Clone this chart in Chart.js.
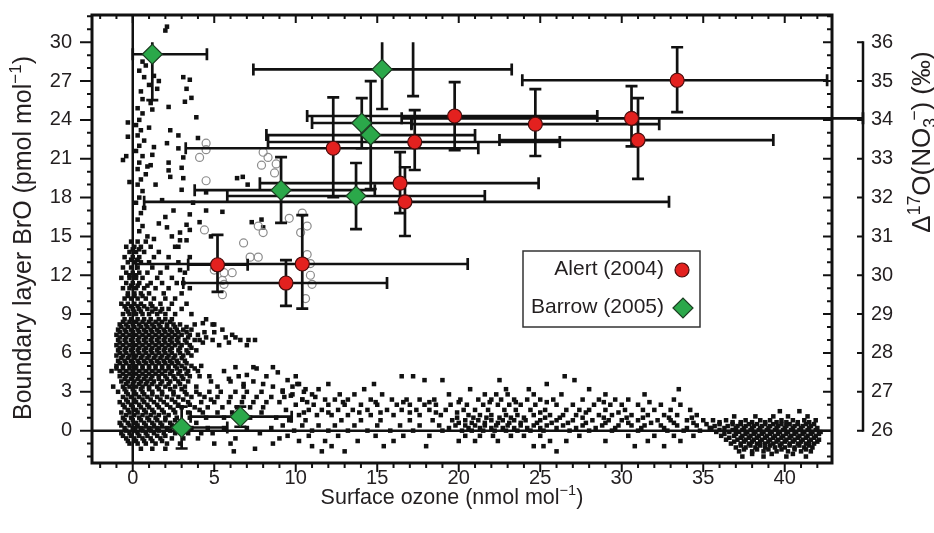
<!DOCTYPE html>
<html>
<head>
<meta charset="utf-8">
<script src="https://cdn.jsdelivr.net/npm/chart.js@4.4.0/dist/chart.umd.min.js"></script>
<style>
  html, body { margin: 0; padding: 0; background: #fff; }
</style>
</head>
<body>
<canvas id="chart" width="934" height="533"></canvas>
<script>
// ---- data ----
// tick labels
var ozoneTicks = [0, 5, 10, 15, 20, 25, 30, 35, 40];
var broTicks = [0, 3, 6, 9, 12, 15, 18, 21, 24, 27, 30];
var d17Ticks = [26, 27, 28, 29, 30, 31, 32, 33, 34, 35, 36];

// Alert (2004): surface ozone vs D17O(NO3-), with error ranges
var alertOzone = [33.4, 19.75, 24.7, 30.6, 31.0, 17.3, 12.3, 16.4, 16.7, 5.2, 10.4, 9.4];
var alertD17 = [35.02, 34.10, 33.89, 34.04, 33.48, 33.43, 33.27, 32.37, 31.89, 30.27, 30.29, 29.80];
var alertOzoneRange = [[23.9, 42.6], [10.7, 28.5], [17.1, 32.3], [16.5, 44.8], [22.5, 39.3], [8.3, 26.2],
  [3.25, 21.2], [7.8, 24.9], [0.7, 32.9], [3.4, 7.05], [0.2, 20.55], [3.1, 15.6]];
var alertD17Range = [[34.20, 35.87], [33.22, 34.97], [33.07, 34.79], [33.32, 34.87], [32.48, 34.56], [32.71, 34.25],
  [32.01, 34.58], [31.60, 33.17], [31.01, 32.78], [29.57, 31.04], [29.14, 31.55], [29.21, 30.39]];

// Barrow (2005)
var barrowOzone = [1.2, 15.3, 14.05, 14.6, 9.1, 13.7, 3.0, 6.6];
var barrowD17 = [35.69, 35.30, 33.92, 33.61, 32.19, 32.04, 26.08, 26.36];
var barrowOzoneRange = [[0, 4.55], [7.4, 23.25], [11.0, 17.1], [8.2, 21.0], [3.8, 14.85], [5.8, 21.6], [0.2, 5.8], [3.55, 9.75]];
var barrowD17Range = [[34.51, 36.87], [34.28, 36.32], [33.27, 34.56], [32.22, 35.0], [31.35, 33.04], [31.19, 32.89], [25.54, 26.62], [26.10, 26.62]];

// a lone vertical error bar without a marker
var loneOzone = [17.2];
var loneD17Range = [[34.61, 36.1]];

// boundary layer BrO vs surface ozone (black dots), sparse part as [ozone, bro]
var broUpper = [
  [2.1, 31.2], [2.0, 30.9], [0.6, 28.5], [0.8, 28.2], [0.4, 27.8], [0.7, 27.3], [1.0, 26.7], [0.5, 26.2], [0.6, 25.6],
  [1.1, 25.3], [1.5, 26.4], [1.6, 27.0], [1.3, 27.4], [0.3, 24.9], [0.6, 24.5], [0.4, 24.0], [0.2, 23.6], [0.5, 23.2],
  [0.3, 22.8], [0.7, 22.4], [0.4, 22.0], [0.2, 21.6], [0.6, 21.2], [0.4, 20.7], [0.3, 20.2], [0.8, 19.8], [0.5, 19.4],
  [0.3, 19.0], [0.6, 18.5], [0.4, 18.0], [0.2, 17.6], [0.7, 17.2], [0.5, 16.8], [0.3, 16.3], [0.6, 15.8], [0.4, 15.4],
  [0.9, 15.0], [1.2, 24.8], [1.0, 23.4], [1.3, 21.9], [1.1, 20.5], [-0.3, 23.8], [-0.4, 21.2], [-0.2, 19.2],
  [-0.6, 20.9], [-0.3, 22.7], [3.1, 27.3], [3.5, 27.1], [3.3, 26.4], [3.6, 25.7], [3.2, 25.4], [2.2, 25.0], [3.9, 24.2],
  [2.3, 23.2], [2.8, 22.8], [2.1, 22.2], [4.0, 22.6], [2.8, 21.8], [3.1, 21.1], [1.2, 21.3], [0.9, 20.4], [2.2, 20.7],
  [2.2, 20.1], [3.0, 20.3], [2.3, 19.6], [3.1, 19.5], [3.0, 18.6], [4.5, 18.4], [5.5, 16.9], [3.7, 17.6], [3.5, 16.7],
  [3.3, 15.9], [2.9, 15.3], [3.5, 15.5], [2.0, 16.5], [2.5, 17.0], [2.1, 15.7], [2.9, 14.7], [4.5, 17.0], [4.1, 16.1],
  [2.4, 15.0], [7.3, 16.1], [7.9, 16.3], [8.0, 15.7], [6.75, 19.6], [7.05, 19.0], [6.4, 19.5], [1.4, 19.0], [1.8, 17.8],
  [1.6, 16.0], [1.3, 14.8], [4.8, 15.0], [3.3, 14.7], [2.8, 14.2], [3.5, 13.4], [2.9, 12.4], [4.3, 8.3], [5.0, 8.2]
];
var broSide = [
  [6.3, 4.9], [7.0, 4.3], [7.6, 4.8], [8.9, 4.5], [9.5, 3.9], [6.8, 3.6], [9.2, 3.1], [10.1, 3.6], [9.7, 2.7],
  [10.4, 2.4], [10.0, 4.2], [7.4, 4.9], [8.6, 4.9], [5.9, 4.0], [8.0, 3.6], [9.8, 3.4], [10.5, 3.0], [11.2, 2.6]
];

// dense parts, one row per BrO level: [bro, ozone, ozone, ...]
var broNearZero = [
  [14.6, -0.1, 0.3, 0.8],
  [14.2, -0.4, 0.1, 0.5, 1.1, 2.6],
  [14.0, 0.0, 0.4],
  [13.8, -0.2, 0.2, 0.7, 1.6],
  [13.4, -0.5, 0.0, 0.4, 1.3, 2.2],
  [13.2, -0.1, 0.3],
  [13.0, -0.3, 0.1, 0.5, 1.0, 2.8],
  [12.6, -0.6, -0.1, 0.3, 1.2, 2.1],
  [12.2, -0.4, 0.0, 0.4, 0.9, 1.7, 3.2],
  [12.0, -0.2, 0.2],
  [11.8, -0.7, -0.2, 0.2, 0.6, 1.5, 2.4],
  [11.4, -0.4, 0.0, 0.4, 1.1, 1.8, 2.7, 3.1],
  [11.2, -0.1, 0.3, 0.9],
  [11.0, -0.6, -0.2, 0.2, 0.7, 1.4, 2.2, 3.5],
  [10.6, -0.3, 0.1, 0.5, 1.0, 1.9, 3.0],
  [10.4, -0.3, 0.1, 0.6],
  [10.2, -0.5, -0.1, 0.3, 0.8, 1.3, 2.0, 2.6],
  [9.8, -0.7, -0.3, 0.1, 0.5, 1.1, 1.7, 2.4, 3.3],
  [9.6, -0.5, -0.1, 0.3, 0.7, 1.2],
  [9.4, -0.4, 0.0, 0.4, 0.9, 1.4, 1.8, 2.2, 3.0],
  [9.2, -0.3, 0.1, 0.5, 1.2, 1.7],
  [9.0, -0.6, -0.2, 0.2, 0.6, 1.0, 1.5, 2.0, 2.6, 3.6],
  [8.6, -0.5, -0.1, 0.3, 0.7, 1.1, 1.6, 2.0, 2.4, 4.5],
  [8.4, -0.6, -0.2, 0.2, 0.6, 1.0, 1.4, 1.8, 2.3],
  [8.2, -0.8, -0.4, 0.0, 0.4, 0.8, 1.2, 1.6, 2.1, 2.5, 2.9, 3.8, 4.9],
  [8.0, -0.7, -0.3, 0.1, 0.5, 0.9, 1.3, 1.7, 2.1, 2.6, 3.3],
  [7.8, -0.9, -0.5, -0.1, 0.3, 0.7, 1.1, 1.5, 1.9, 2.3, 2.7, 3.1, 3.6, 5.5],
  [7.6, -0.8, -0.4, 0.0, 0.4, 0.8, 1.2, 1.6, 2.0, 2.4, 2.8, 3.3, 4.4, 5.0],
  [7.4, -1.0, -0.6, -0.2, 0.2, 0.6, 1.0, 1.4, 1.8, 2.2, 2.6, 3.0, 3.5, 4.0, 6.1],
  [7.2, -0.8, -0.4, 0.0, 0.4, 0.8, 1.2, 1.6, 2.0, 2.4, 2.8, 3.4, 4.5, 5.7, 6.3],
  [7.0, -0.9, -0.5, -0.1, 0.3, 0.7, 1.1, 1.5, 1.9, 2.3, 2.7, 3.2, 3.8, 4.1, 4.9, 6.6, 7.1, 7.5],
  [6.8, -0.8, -0.4, 0.0, 0.4, 0.8, 1.2, 1.6, 2.0, 2.4, 2.8, 3.3, 4.3, 5.9],
  [6.6, -1.0, -0.6, -0.2, 0.2, 0.6, 1.0, 1.4, 1.8, 2.2, 2.6, 3.0, 3.5, 5.3, 7.0],
  [6.4, -0.8, -0.4, 0.0, 0.4, 0.8, 1.2, 1.6, 2.0, 2.4, 2.9, 3.6],
  [6.2, -0.9, -0.5, -0.1, 0.3, 0.7, 1.1, 1.5, 1.9, 2.3, 2.8, 3.3, 3.9],
  [6.0, -0.8, -0.4, 0.0, 0.4, 0.8, 1.2, 1.6, 2.0, 2.4, 2.9, 3.4],
  [5.8, -1.0, -0.6, -0.2, 0.2, 0.6, 1.0, 1.4, 1.8, 2.2, 2.6, 3.1, 3.6],
  [5.6, -0.7, -0.3, 0.1, 0.5, 0.9, 1.3, 1.7, 2.1, 2.5, 3.0],
  [5.4, -0.9, -0.5, -0.1, 0.3, 0.7, 1.1, 1.5, 1.9, 2.3, 2.7, 3.2],
  [5.2, -0.8, -0.4, 0.0, 0.4, 0.8, 1.2, 1.6, 2.0, 2.4, 2.8, 3.3],
  [5.0, -1.0, -0.6, -0.2, 0.2, 0.6, 1.0, 1.4, 1.8, 2.2, 2.6, 3.0, 3.6, 4.2],
  [4.8, -1.0, -0.6, -0.2, 0.2, 0.6, 1.0, 1.4, 1.8, 2.2, 2.7, 3.2, 3.8],
  [4.6, -1.3, -0.8, -0.4, 0.0, 0.4, 0.8, 1.2, 1.6, 2.0, 2.4, 2.9, 3.4, 4.0, 5.6],
  [4.4, -0.6, -0.2, 0.2, 0.6, 1.0, 1.4, 1.8, 2.3, 2.8, 3.3],
  [4.2, -0.8, -0.4, 0.0, 0.4, 0.8, 1.2, 1.6, 2.0, 2.5, 3.0, 3.5, 4.1, 4.7, 6.5, 8.2],
  [4.0, -0.5, -0.1, 0.3, 0.7, 1.1, 1.6, 2.1, 2.6, 3.1],
  [3.8, -0.7, -0.3, 0.1, 0.5, 0.9, 1.3, 1.8, 2.3, 2.8, 3.4, 4.8, 6.0, 7.4],
  [3.6, -0.4, 0.0, 0.4, 0.8, 1.2, 1.7, 2.2, 2.9],
  [3.4, -1.2, -0.6, -0.2, 0.2, 0.6, 1.0, 1.5, 2.0, 2.6, 3.2, 3.9, 5.2, 6.8, 8.6],
  [3.2, -0.5, 0.0, 0.5, 1.0, 1.6, 2.3, 3.0],
  [3.0, -0.9, -0.4, 0.1, 0.6, 1.2, 1.8, 2.5, 3.2, 3.9, 4.7, 5.4, 6.3, 7.0, 7.9, 9.2],
  [2.8, -0.3, 0.2, 0.7, 1.2, 1.8, 2.5, 3.3, 4.1],
  [2.6, -0.6, -0.1, 0.4, 0.9, 1.5, 2.1, 2.8, 3.6, 4.4, 5.2, 6.0, 6.8, 7.6, 8.5, 9.3],
  [2.4, -0.4, 0.1, 0.6, 1.1, 1.7, 2.4, 3.1, 4.8],
  [2.2, -0.8, -0.3, 0.2, 0.7, 1.3, 1.9, 2.6, 3.4, 4.2, 5.0, 5.9, 6.7, 7.4, 8.2, 9.0],
  [2.0, -0.6, -0.1, 0.4, 0.9, 1.5, 2.1, 2.8, 3.5],
  [1.8, -0.5, 0.0, 0.5, 1.0, 1.6, 2.3, 3.0, 3.8, 4.6, 5.5, 6.4, 7.2, 8.0],
  [1.6, -0.3, 0.2, 0.7, 1.2, 1.8, 2.5, 4.1],
  [1.4, -0.7, -0.2, 0.3, 0.8, 1.3, 1.9, 2.6, 3.4, 4.3, 5.2, 6.1, 7.9],
  [1.2, -0.4, 0.1, 0.6, 1.1, 1.6, 2.2],
  [1.0, -0.6, -0.1, 0.4, 0.9, 1.4, 2.0, 2.7, 3.5, 4.5, 5.6, 7.2, 8.8],
  [0.8, -0.5, 0.0, 0.5, 1.0, 1.5, 2.0, 2.6],
  [0.6, -0.8, -0.3, 0.2, 0.7, 1.2, 1.7, 2.3, 3.0, 3.9],
  [0.4, -0.7, -0.2, 0.3, 0.8, 1.3, 1.8, 2.4],
  [0.2, -0.5, 0.0, 0.5, 1.0, 1.5, 2.1, 2.8, 3.6, 4.6, 5.6, 7.0, 8.5],
  [0.0, -0.4, 0.1, 0.6, 1.1, 1.6, 2.3],
  [-0.2, -0.7, -0.2, 0.3, 0.8, 1.3, 1.9, 2.6, 3.4, 4.2, 4.9, 7.8],
  [-0.4, -0.6, -0.1, 0.4, 0.9, 1.5, 2.0],
  [-0.6, -0.4, 0.1, 0.6, 1.1, 1.7, 2.4, 3.1, 4.0, 6.3, 9.0],
  [-0.8, -0.3, 0.2, 0.7, 1.2, 1.8],
  [-1.0, -0.2, 0.3, 0.8, 1.4, 2.1, 2.9, 5.0, 6.0, 8.6],
  [-1.4, 0.5, 1.2, 2.0, 7.5]
];
var broBand = [
  [4.2, 16.5, 17.2, 26.5],
  [3.9, 17.9, 19.0, 22.5, 27.1],
  [3.6, 10.2, 12.0, 14.8, 25.4],
  [3.2, 10.6, 11.4, 14.2, 20.7, 22.9, 24.3, 28.0, 33.5],
  [2.8, 9.8, 11.0, 12.7, 13.6, 15.3, 19.4, 21.6, 22.3, 23.0, 24.6, 26.3, 29.0, 31.4],
  [2.4, 10.4, 11.8, 12.4, 13.2, 14.6, 15.9, 16.8, 17.6, 18.5, 20.1, 21.2, 22.0, 22.6, 23.4, 24.2, 25.0, 25.8, 27.6, 28.6, 29.6, 30.4, 33.2],
  [2.2, 10.7, 12.9, 14.9, 16.6, 18.2, 20.0, 21.9, 23.5, 25.4, 28.9, 31.7],
  [2.0, 10.0, 11.1, 12.0, 13.0, 14.0, 15.0, 16.2, 17.0, 17.9, 18.6, 19.5, 20.5, 21.5, 22.4, 23.1, 23.8, 24.7, 26.0, 27.0, 28.3, 29.3, 30.0, 31.0, 32.4, 33.6],
  [1.6, 9.4, 10.8, 11.6, 12.6, 13.5, 14.4, 15.6, 16.5, 17.4, 18.2, 19.2, 20.3, 21.0, 21.8, 22.8, 23.5, 24.4, 25.3, 26.6, 27.4, 28.0, 29.0, 30.2, 31.3, 32.0, 33.0, 34.2],
  [1.4, 10.5, 12.0, 13.9, 15.2, 17.0, 18.6, 19.9, 25.0, 27.8, 29.8],
  [1.2, 10.2, 11.3, 12.2, 13.2, 14.6, 16.0, 17.6, 18.9, 20.6, 21.3, 22.0, 22.9, 23.6, 24.6, 25.6, 26.4, 27.2, 28.6, 29.4, 30.6, 31.6, 32.6, 33.4, 34.6],
  [1.0, 19.9, 20.9, 21.7, 22.5, 23.2, 24.0, 25.3, 26.2, 27.6, 28.9, 30.3, 31.3, 32.9, 34.3],
  [0.8, 9.6, 10.6, 12.8, 14.0, 15.2, 17.0, 18.4, 19.6, 20.4, 21.2, 22.0, 22.7, 23.4, 24.1, 25.0, 26.0, 27.0, 28.2, 29.2, 30.0, 31.0, 32.2, 33.0, 34.0, 35.0],
  [0.6, 20.0, 20.8, 21.6, 22.4, 23.1, 23.8, 24.8, 25.7, 26.7, 27.8, 29.0, 30.4, 31.8, 33.2, 34.4],
  [0.4, 9.2, 10.4, 11.4, 12.4, 13.6, 15.0, 16.4, 17.6, 18.8, 19.8, 20.4, 21.0, 21.6, 22.3, 23.0, 23.8, 24.6, 25.4, 26.4, 27.6, 28.8, 29.8, 30.6, 31.4, 32.4, 33.4, 34.6],
  [0.2, 19.4, 20.6, 21.3, 22.0, 22.7, 23.4, 24.2, 25.0, 26.0, 27.2, 28.4, 29.6, 31.2, 32.6, 34.0, 35.4],
  [0.0, 9.9, 11.0, 12.0, 13.2, 14.4, 15.8, 17.2, 19.0, 20.2, 20.8, 21.5, 22.2, 22.9, 23.6, 24.4, 25.2, 26.8, 28.0, 29.4, 31.0, 32.8, 33.8, 34.8],
  [-0.4, 9.5, 10.8, 12.6, 14.9, 16.6, 18.2, 20.4, 21.3, 22.1, 23.2, 24.0, 25.0, 27.4, 30.4, 32.0, 33.2, 34.4],
  [-0.8, 10.2, 11.8, 13.8, 16.0, 20.0, 21.0, 22.4, 25.6, 26.6, 29.0, 31.6, 33.6],
  [-1.2, 11.0, 12.2, 15.4, 18.0, 24.6, 25.2, 30.8, 32.6],
  [-1.6, 6.2, 11.6, 13.0, 26.0]
];
var broForty = [
  [1.5, 39.7, 40.9],
  [1.1, 36.9, 38.2, 39.3, 40.2, 41.4],
  [0.8, 35.6, 36.4, 37.6, 38.5, 39.1, 39.8, 40.5, 41.2, 41.9],
  [0.65, 36.0, 36.8, 37.3, 38.0, 38.8, 39.5, 40.1, 40.8, 41.5],
  [0.5, 35.2, 36.0, 36.8, 37.3, 37.8, 38.3, 38.8, 39.3, 39.8, 40.3, 40.8, 41.3, 41.8],
  [0.35, 35.7, 36.5, 37.1, 37.6, 38.1, 38.6, 39.1, 39.6, 40.1, 40.6, 41.1, 41.6],
  [0.2, 35.5, 36.3, 37.0, 37.5, 38.0, 38.5, 39.0, 39.5, 40.0, 40.5, 41.0, 41.5, 42.0],
  [0.05, 36.0, 36.8, 37.4, 37.9, 38.4, 38.9, 39.4, 39.9, 40.4, 40.9, 41.4, 41.9],
  [-0.1, 35.8, 36.6, 37.2, 37.7, 38.2, 38.7, 39.2, 39.7, 40.2, 40.7, 41.2, 41.7, 42.2],
  [-0.25, 36.3, 37.0, 37.6, 38.1, 38.6, 39.1, 39.6, 40.1, 40.6, 41.1, 41.6, 42.1],
  [-0.4, 36.1, 36.9, 37.4, 37.9, 38.4, 38.9, 39.4, 39.9, 40.4, 40.9, 41.4, 41.9],
  [-0.55, 36.6, 37.3, 37.8, 38.3, 38.8, 39.3, 39.8, 40.3, 40.8, 41.3, 41.8],
  [-0.7, 36.4, 37.1, 37.6, 38.1, 38.6, 39.1, 39.6, 40.1, 40.6, 41.1, 41.6, 42.1],
  [-0.85, 36.9, 37.5, 38.0, 38.5, 39.0, 39.5, 40.0, 40.5, 41.0, 41.5, 42.0],
  [-1.0, 36.7, 37.3, 37.8, 38.3, 38.8, 39.3, 39.8, 40.3, 40.8, 41.3, 41.8],
  [-1.15, 37.3, 37.9, 38.5, 39.1, 39.7, 40.3, 40.9, 41.5],
  [-1.3, 37.0, 37.6, 38.2, 38.8, 39.4, 40.0, 40.6, 41.2, 41.7],
  [-1.45, 37.5, 38.3, 39.0, 39.8, 40.6, 41.3],
  [-1.6, 37.2, 38.0, 38.7, 39.5, 40.2, 41.0, 41.6],
  [-1.8, 38.0, 39.2, 40.5],
  [-2.0, 37.4, 38.7, 40.1, 41.3]
];

// grey open circles [ozone, bro]
var broOpen = [
  [4.5, 22.2], [4.5, 21.7], [4.1, 21.1], [8.0, 21.5], [8.3, 21.1], [7.9, 20.5], [8.8, 20.6], [8.7, 19.9], [4.5, 19.3],
  [4.4, 15.5], [6.8, 14.5], [7.7, 15.8], [8.0, 15.3], [9.6, 16.4], [10.4, 16.8], [10.7, 15.8], [10.3, 15.3], [7.2, 13.4],
  [7.7, 13.4], [10.7, 13.6], [10.9, 12.9], [10.9, 12.0], [11.0, 11.3], [10.6, 10.2], [5.0, 12.4], [5.6, 12.2], [6.1, 12.2],
  [5.5, 11.6], [5.5, 10.5], [5.6, 11.3]
];

// axis ranges (left BrO axis, right axis = 26 + BrO/3)
var ozoneMin = -2.5, ozoneMax = 42.9;
var broMin = -2.5, broMax = 32.1;
var d17Base = 26, d17PerBro = 1 / 3, d17Top = 36;

// ---- helpers ----
var FONT = '"Liberation Sans", Arial, Helvetica, sans-serif';
var INK = '#231f20';

function pairsToPoints(list) {
  return list.map(function (p) { return { x: p[0], y: p[1] }; });
}
function rowsToPoints(rows) {
  var out = [];
  rows.forEach(function (r) {
    for (var i = 1; i < r.length; i++) out.push({ x: r[i], y: r[0] });
  });
  return out;
}
function zip(xs, ys) {
  return xs.map(function (x, i) { return { x: x, y: ys[i] }; });
}

// draws a line of text with superscript (1), subscript (2) and stacked superscript (3) parts
function drawRich(ctx, parts, cx, cy, rot, size) {
  var small = size * 0.68;
  var items = [], w = 0, lastW = 0;
  ctx.save();
  parts.forEach(function (p) {
    ctx.font = (p[1] ? small : size) + 'px ' + FONT;
    var tw = ctx.measureText(p[0]).width;
    if (p[1] === 3) {
      items.push({ t: p[0], k: 3, x: w - lastW * 0.3 });
      w += Math.max(0, tw - lastW * 0.3);
    } else {
      items.push({ t: p[0], k: p[1], x: w });
      w += tw;
      lastW = tw;
    }
  });
  ctx.translate(cx, cy);
  ctx.rotate(rot);
  ctx.fillStyle = INK;
  ctx.textAlign = 'left';
  ctx.textBaseline = 'alphabetic';
  items.forEach(function (it) {
    ctx.font = (it.k ? small : size) + 'px ' + FONT;
    var dy = (it.k === 1 || it.k === 3) ? -size * 0.4 : (it.k === 2 ? size * 0.22 : 0);
    ctx.fillText(it.t, it.x - w / 2, size * 0.36 + dy);
  });
  ctx.restore();
}

// keep tick-label padding from pushing the plot area inwards
function fixedSize(w, h) {
  return function (s) {
    if (w) s.width = w;
    if (h) s.height = h;
    s.paddingTop = 0; s.paddingBottom = 0; s.paddingLeft = 0; s.paddingRight = 0;
  };
}

// ---- plugins ----
var errorBars = {
  id: 'errorBars',
  beforeDatasetDraw: function (chart, args) {
    if (args.index !== 2) return; // just before the Barrow markers
    var ctx = chart.ctx, a = chart.chartArea;
    var x = chart.scales.x, y = chart.scales.y, y1 = chart.scales.y1;
    ctx.save();
    ctx.strokeStyle = '#111';

    // zero lines
    ctx.lineWidth = 2.5;
    ctx.beginPath();
    ctx.moveTo(x.getPixelForValue(0), a.top);
    ctx.lineTo(x.getPixelForValue(0), a.bottom);
    ctx.moveTo(a.left, y.getPixelForValue(0));
    ctx.lineTo(a.right, y.getPixelForValue(0));
    ctx.stroke();

    var cap = 6;
    ctx.lineWidth = 2.7;
    function bars(xs, ys, xr, yr) {
      for (var i = 0; i < xs.length; i++) {
        var px = x.getPixelForValue(xs[i]);
        ctx.beginPath();
        if (xr && ys) {
          var py = y1.getPixelForValue(ys[i]);
          var x0 = x.getPixelForValue(xr[i][0]), x1 = x.getPixelForValue(xr[i][1]);
          ctx.moveTo(x0, py); ctx.lineTo(x1, py);
          ctx.moveTo(x0, py - cap); ctx.lineTo(x0, py + cap);
          ctx.moveTo(x1, py - cap); ctx.lineTo(x1, py + cap);
        }
        var lo = yr[i][0], hi = Math.min(yr[i][1], d17Top);
        var pl = y1.getPixelForValue(lo), ph = y1.getPixelForValue(hi);
        ctx.moveTo(px, pl); ctx.lineTo(px, ph);
        ctx.moveTo(px - cap, pl); ctx.lineTo(px + cap, pl);
        if (yr[i][1] <= d17Top) { ctx.moveTo(px - cap, ph); ctx.lineTo(px + cap, ph); }
        ctx.stroke();
      }
    }
    bars(alertOzone, alertD17, alertOzoneRange, alertD17Range);
    bars(barrowOzone, barrowD17, barrowOzoneRange, barrowD17Range);
    bars(loneOzone, null, null, loneD17Range);
    ctx.restore();
  }
};

var frameAndAxes = {
  id: 'frameAndAxes',
  afterDatasetsDraw: function (chart) {
    var ctx = chart.ctx, a = chart.chartArea;
    var x = chart.scales.x, y = chart.scales.y, y1 = chart.scales.y1;
    ctx.save();
    ctx.strokeStyle = '#111';
    ctx.lineWidth = 3;
    ctx.strokeRect(a.left, a.top, a.right - a.left, a.bottom - a.top);

    ctx.lineWidth = 2;
    ctx.beginPath();
    var v, p, major;
    for (v = Math.ceil(broMin); v <= broMax; v++) {
      p = y.getPixelForValue(v);
      major = broTicks.indexOf(v) >= 0;
      ctx.moveTo(a.left - (major ? 12 : 5), p); ctx.lineTo(a.left, p);
      ctx.moveTo(a.right - (major ? 9 : 5), p); ctx.lineTo(a.right, p);
    }
    for (v = Math.ceil(ozoneMin); v <= ozoneMax; v++) {
      p = x.getPixelForValue(v);
      major = ozoneTicks.indexOf(v) >= 0;
      ctx.moveTo(p, a.top); ctx.lineTo(p, a.top + (major ? 8 : 4));
      ctx.moveTo(p, a.bottom); ctx.lineTo(p, a.bottom + (major ? 9 : 5));
    }
    ctx.stroke();

    // detached right axis for D17O
    var ax = 863;
    ctx.lineWidth = 2.5;
    ctx.beginPath();
    ctx.moveTo(ax, y1.getPixelForValue(d17Ticks[d17Ticks.length - 1]) - 1);
    ctx.lineTo(ax, y1.getPixelForValue(d17Ticks[0]) + 1);
    ctx.stroke();
    ctx.lineWidth = 2;
    ctx.beginPath();
    d17Ticks.forEach(function (t) {
      var q = y1.getPixelForValue(t);
      ctx.moveTo(ax - 6, q); ctx.lineTo(ax, q);
    });
    ctx.stroke();

    // legend box
    var bx = 523, by = 251, bw = 177, bh = 76;
    ctx.fillStyle = '#fff';
    ctx.fillRect(bx, by, bw, bh);
    ctx.lineWidth = 1.5;
    ctx.strokeStyle = '#333';
    ctx.strokeRect(bx, by, bw, bh);
    ctx.font = '21px ' + FONT;
    ctx.fillStyle = INK;
    ctx.textAlign = 'right';
    ctx.textBaseline = 'middle';
    var ds = chart.data.datasets;
    ctx.fillText(ds[3].label, 664, 269);
    ctx.fillText(ds[2].label, 664, 307);
    ctx.lineWidth = 1.2;
    ctx.fillStyle = ds[3].backgroundColor;
    ctx.strokeStyle = ds[3].borderColor;
    ctx.beginPath(); ctx.arc(682, 270, 7, 0, Math.PI * 2); ctx.fill(); ctx.stroke();
    ctx.fillStyle = ds[2].backgroundColor;
    ctx.strokeStyle = ds[2].borderColor;
    ctx.beginPath();
    ctx.moveTo(673, 308); ctx.lineTo(683, 298); ctx.lineTo(693, 308); ctx.lineTo(683, 318);
    ctx.closePath(); ctx.fill(); ctx.stroke();
    ctx.restore();
  },
  afterDraw: function (chart) {
    var ctx = chart.ctx;
    drawRich(ctx, [['Surface ozone (nmol mol', 0], ['\u22121', 1], [')', 0]], 452, 496, 0, 21.5);
    drawRich(ctx, [['Boundary layer BrO (pmol mol', 0], ['\u22121', 1], [')', 0]], 22, 238, -Math.PI / 2, 25);
    drawRich(ctx, [['\u0394', 0], ['17', 1], ['O(NO', 0], ['3', 2], ['\u2212', 3], [') (\u2030)', 0]], 921, 142, -Math.PI / 2, 26);
  }
};

// ---- chart ----
var tickFont = { family: FONT, size: 20 };

var chart = new Chart(document.getElementById('chart').getContext('2d'), {
  type: 'scatter',
  data: {
    datasets: [
      {
        label: 'BrO',
        data: pairsToPoints(broUpper).concat(rowsToPoints(broNearZero), pairsToPoints(broSide),
          rowsToPoints(broBand), rowsToPoints(broForty)),
        yAxisID: 'y',
        pointStyle: 'rect',
        pointRadius: 3.2,
        backgroundColor: '#111',
        borderWidth: 0,
        order: 3
      },
      {
        label: 'BrO (open)',
        data: pairsToPoints(broOpen),
        yAxisID: 'y',
        pointStyle: 'circle',
        pointRadius: 4,
        backgroundColor: 'rgba(0,0,0,0)',
        borderColor: '#8c8c8c',
        borderWidth: 1.2,
        order: 2
      },
      {
        label: 'Barrow (2005)',
        data: zip(barrowOzone, barrowD17),
        yAxisID: 'y1',
        pointStyle: 'rectRot',
        pointRadius: 10,
        backgroundColor: '#2ba84a',
        borderColor: '#1c3d22',
        borderWidth: 1.2,
        order: 1
      },
      {
        label: 'Alert (2004)',
        data: zip(alertOzone, alertD17),
        yAxisID: 'y1',
        pointStyle: 'circle',
        pointRadius: 7,
        backgroundColor: '#e3211f',
        borderColor: '#4a0d0d',
        borderWidth: 1.2,
        order: 0
      }
    ]
  },
  options: {
    responsive: false,
    animation: false,
    events: [],
    layout: { padding: { top: 15, left: 0, right: 0, bottom: 0 } },
    plugins: { legend: { display: false }, tooltip: { enabled: false } },
    scales: {
      x: {
        type: 'linear',
        min: ozoneMin,
        max: ozoneMax,
        afterFit: fixedSize(0, 70),
        afterBuildTicks: function (s) { s.ticks = ozoneTicks.map(function (v) { return { value: v }; }); },
        grid: { display: false, drawTicks: false },
        border: { display: false },
        ticks: { font: tickFont, color: INK, padding: 3, maxRotation: 0, autoSkip: false }
      },
      y: {
        type: 'linear',
        position: 'left',
        min: broMin,
        max: broMax,
        afterFit: fixedSize(92, 0),
        afterBuildTicks: function (s) { s.ticks = broTicks.map(function (v) { return { value: v }; }); },
        grid: { display: false, drawTicks: false },
        border: { display: false },
        ticks: { font: tickFont, color: INK, padding: 20, autoSkip: false }
      },
      y1: {
        type: 'linear',
        position: 'right',
        min: d17Base + broMin * d17PerBro,
        max: d17Base + broMax * d17PerBro,
        afterFit: fixedSize(102, 0),
        afterBuildTicks: function (s) { s.ticks = d17Ticks.map(function (v) { return { value: v }; }); },
        grid: { display: false, drawTicks: false },
        border: { display: false },
        ticks: { font: tickFont, color: INK, padding: 39, autoSkip: false }
      }
    }
  },
  plugins: [errorBars, frameAndAxes]
});
</script>
</body>
</html>
